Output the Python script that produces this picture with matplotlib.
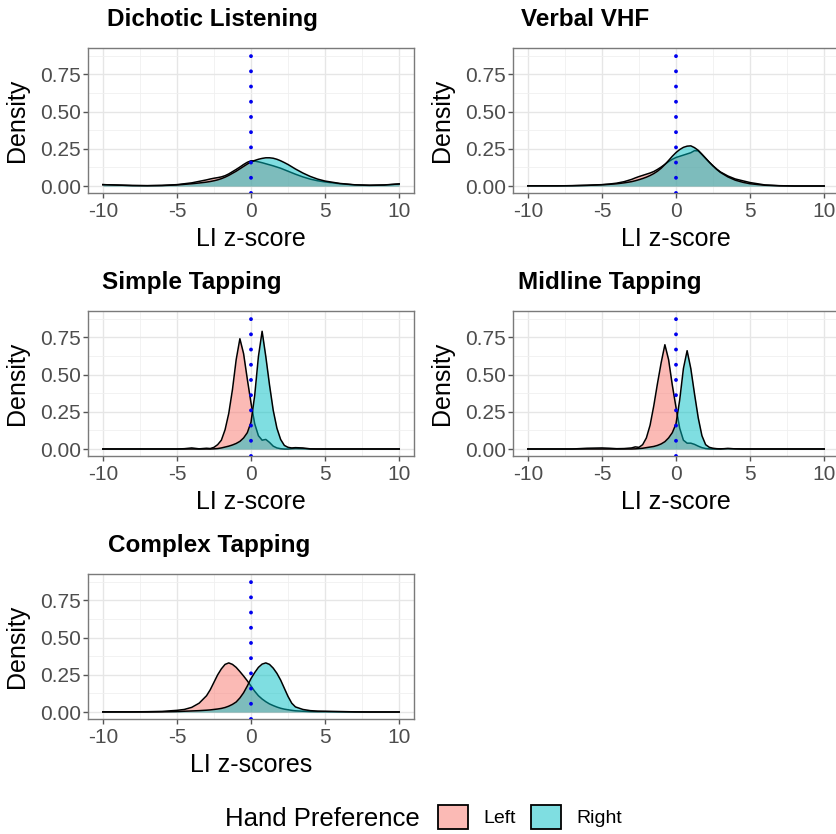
import matplotlib
matplotlib.use("Agg")
import matplotlib.pyplot as plt
from matplotlib.patches import Patch
from matplotlib.colors import to_rgba

plt.rcParams['font.family'] = ['Liberation Sans', 'DejaVu Sans']
plt.rcParams['axes.unicode_minus'] = False

z = [-10, -9, -8, -7, -6, -5, -4.5, -4, -3.5,
     -3, -2.75, -2.5, -2.25, -2, -1.75, -1.5, -1.25, -1, -0.75, -0.5, -0.25,
     0, 0.25, 0.5, 0.75, 1, 1.25, 1.5, 1.75, 2, 2.25, 2.5, 2.75, 3,
     3.5, 4, 4.5, 5, 6, 7, 8, 9, 10]

# Dichotic Listening
dl_left = [.010, .007, .004, .003, .005, .010, .016, .022, .032,
           .042, .048, .053, .057, .062, .070, .082, .097, .112, .128, .145, .160,
           .170, .168, .163, .157, .150, .143, .136, .128, .120, .110, .100, .090, .080,
           .062, .047, .036, .028, .016, .008, .005, .007, .014]
dl_right = [.010, .007, .004, .003, .004, .008, .012, .016, .021,
            .027, .031, .036, .042, .050, .060, .072, .086, .100, .116, .132, .148,
            .162, .172, .180, .186, .190, .190, .187, .180, .170, .158, .145, .130, .115,
            .088, .065, .047, .034, .018, .009, .006, .008, .015]

# Verbal VHF
vhf_left = [.002, .002, .002, .003, .006, .010, .014, .020, .030,
            .045, .055, .064, .072, .080, .088, .098, .112, .128, .146, .164, .180,
            .192, .200, .208, .216, .224, .238, .236, .212, .186, .160, .136, .114, .095,
            .068, .048, .036, .024, .008, .003, .001, .001, .001]
vhf_right = [.002, .002, .002, .003, .005, .009, .012, .016, .022,
             .030, .036, .043, .051, .060, .071, .084, .100, .120, .145, .172, .200,
             .225, .245, .260, .268, .270, .258, .240, .214, .187, .160, .135, .112, .092,
             .062, .040, .026, .016, .006, .002, .001, .001, .001]

# Simple Tapping
st_left = [.001, .001, .001, .001, .001, .001, .003, .008, .002,
           .006, .004, .012, .030, .060, .130, .240, .400, .600, .740, .640, .470,
           .310, .170, .090, .060, .065, .045, .020, .008, .003, .001, .001, .003, .004,
           .003, .001, .001, .001, .001, .001, .001, .001, .001]
st_right = [.001, .001, .001, .001, .001, .001, .001, .001, .001,
            .001, .001, .002, .004, .008, .014, .020, .028, .038, .052, .075, .110,
            .180, .360, .620, .790, .620, .430, .260, .140, .065, .025, .012, .008, .010,
            .008, .002, .001, .001, .001, .001, .001, .001, .001]

# Midline Tapping
mt_left = [.001, .001, .001, .001, .006, .008, .006, .003, .004,
           .008, .015, .012, .030, .075, .160, .290, .440, .580, .700, .600, .430,
           .280, .140, .060, .040, .040, .032, .020, .010, .004, .002, .001, .001, .001,
           .004, .002, .001, .001, .001, .001, .001, .001, .001]
mt_right = [.001, .001, .001, .001, .001, .001, .001, .001, .001,
            .001, .002, .004, .006, .010, .014, .018, .025, .035, .050, .075, .110,
            .170, .330, .540, .660, .540, .370, .210, .090, .030, .012, .006, .003, .002,
            .004, .002, .001, .001, .001, .001, .001, .001, .001]

# Complex Tapping
ct_left = [.002, .002, .002, .003, .005, .012, .018, .032, .060,
           .110, .150, .200, .250, .290, .320, .330, .320, .300, .272, .242, .210,
           .175, .140, .110, .088, .070, .055, .044, .034, .026, .020, .016, .012, .009,
           .006, .004, .003, .003, .002, .001, .001, .001, .001]
ct_right = [.001, .001, .001, .001, .002, .004, .006, .008, .010,
            .013, .015, .018, .021, .025, .031, .040, .052, .068, .095, .130, .175,
            .225, .265, .300, .322, .330, .320, .295, .260, .215, .160, .105, .060, .035,
            .018, .010, .007, .006, .004, .002, .001, .001, .001]

titles = ["Dichotic Listening", "Verbal VHF", "Simple Tapping",
          "Midline Tapping", "Complex Tapping"]
xlabels = ["LI z-score", "LI z-score", "LI z-score", "LI z-score", "LI z-scores"]
lefts = [dl_left, vhf_left, st_left, mt_left, ct_left]
rights = [dl_right, vhf_right, st_right, mt_right, ct_right]
groups = ["Left", "Right"]

LEFT_COL = "#F8766D"
RIGHT_COL = "#00BFC4"

W, H = 837, 834
fig = plt.figure(figsize=(W / 100, H / 100), dpi=100)

col_x = [88, 513]
row_y = [48, 311, 574]
ax_w, ax_h = 326, 145
title_dx = [[19, 8], [14, 5], [20, 5]]

for i, title in enumerate(titles):
    r, c = divmod(i, 2)
    x0, y0 = col_x[c], row_y[r]
    ax = fig.add_axes([x0 / W, 1 - (y0 + ax_h) / H, ax_w / W, ax_h / H])

    ax.fill_between(z, lefts[i], color=LEFT_COL, alpha=0.5, lw=0, zorder=2)
    ax.plot(z, lefts[i], color="black", lw=1.1, zorder=3)
    ax.fill_between(z, rights[i], color=RIGHT_COL, alpha=0.5, lw=0, zorder=4)
    ax.plot(z, rights[i], color="black", lw=1.1, zorder=5)
    ax.axvline(0, color="#0000EE", lw=2.8, linestyle=(0, (0.01, 3.9)),
               dash_capstyle="round", zorder=6)

    ax.set_xlim(-11, 11)
    ax.set_ylim(-0.046, 0.926)
    ax.set_xticks([-10, -5, 0, 5, 10])
    ax.set_xticks([-7.5, -2.5, 2.5, 7.5], minor=True)
    ax.set_yticks([0, 0.25, 0.5, 0.75])
    ax.set_yticklabels(["0.00", "0.25", "0.50", "0.75"])
    ax.set_yticks([0.125, 0.375, 0.625, 0.875], minor=True)
    ax.grid(which="major", color="#E6E6E6", lw=1.0)
    ax.grid(which="minor", color="#F0F0F0", lw=0.6)
    ax.set_axisbelow(True)
    ax.tick_params(which="minor", length=0)
    ax.tick_params(which="major", labelsize=15, labelcolor="#4D4D4D",
                   color="#555555", length=3.5, width=1)
    ax.tick_params(axis="x", pad=3)
    ax.tick_params(axis="y", pad=1.5)
    for s in ax.spines.values():
        s.set_color("#7A7A7A")
        s.set_linewidth(1.0)

    fig.text((x0 + title_dx[r][c]) / W, 1 - (y0 - 22) / H, title,
             fontsize=17.5, fontweight="bold", ha="left", va="baseline")
    fig.text((x0 - 71) / W, 1 - (y0 + ax_h / 2) / H, "Density",
             fontsize=18, rotation=90, ha="center", va="center")
    fig.text((x0 + ax_w / 2) / W, 1 - (y0 + ax_h + 53) / H, xlabels[i],
             fontsize=18, ha="center", va="baseline")

# legend
fig.text(225 / W, 1 - 826 / H, "Hand Preference", fontsize=18.5,
         ha="left", va="baseline")
handles = [Patch(facecolor=to_rgba(LEFT_COL, 0.5), edgecolor="black", lw=1.3),
           Patch(facecolor=to_rgba(RIGHT_COL, 0.5), edgecolor="black", lw=1.3)]
fig.legend(handles, groups, loc="center", bbox_to_anchor=(530 / W, 1 - 817 / H),
           ncol=2, frameon=False, fontsize=14, handlelength=1.55,
           handleheight=1.5, handletextpad=0.77, columnspacing=0.77,
           borderpad=0, borderaxespad=0)

fig.savefig("out.png", dpi=100)
